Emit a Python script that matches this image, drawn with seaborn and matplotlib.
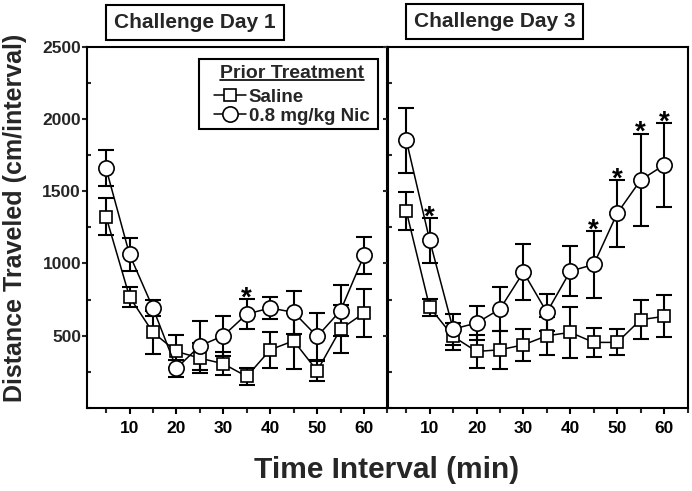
import numpy as np
import pandas as pd
import matplotlib
matplotlib.use("Agg")
import matplotlib.pyplot as plt
from matplotlib.lines import Line2D
from matplotlib.patches import Rectangle
from matplotlib.ticker import MultipleLocator
import seaborn as sns

# ---------------- data ----------------
time_min = [5, 10, 15, 20, 25, 30, 35, 40, 45, 50, 55, 60]

day1_saline = [1324, 769, 523, 391, 345, 306, 218, 403, 465, 257, 546, 657]
day1_saline_sem = [130, 70, 150, 115, 105, 80, 60, 125, 195, 70, 165, 165]
day1_nic = [1658, 1063, 692, 275, 430, 500, 650, 692, 662, 495, 674, 1056]
day1_nic_sem = [125, 115, 55, 60, 170, 140, 105, 75, 150, 165, 175, 130]

day3_saline = [1364, 697, 495, 391, 403, 437, 500, 523, 454, 454, 611, 634]
day3_saline_sem = [133, 58, 92, 115, 130, 110, 130, 175, 100, 90, 135, 145]
day3_nic = [1854, 1160, 546, 588, 685, 940, 662, 947, 993, 1347, 1577, 1681]
day3_nic_sem = [225, 155, 107, 120, 155, 195, 130, 175, 230, 230, 320, 290]

sig_day1 = [35]
sig_day3 = [10, 45, 50, 55, 60]

panel_titles = ["Challenge Day 1", "Challenge Day 3"]
series_labels = ["Saline", "0.8 mg/kg Nic"]
legend_title = "Prior Treatment"
x_label = "Time Interval (min)"
y_label = "Distance Traveled (cm/interval)"
x_ticks = [10, 20, 30, 40, 50, 60]
y_ticks = [500, 1000, 1500, 2000, 2500]

# ---------------- style ----------------
sns.set_theme(style="ticks")
plt.rcParams["font.family"] = ["Liberation Sans", "DejaVu Sans"]
plt.rcParams["font.weight"] = "bold"
plt.rcParams["axes.linewidth"] = 1.5

W, H = 692, 491
fig = plt.figure(figsize=(W / 100, H / 100), dpi=100)
ax1 = fig.add_axes([87.3 / W, 83 / H, 300.2 / W, 361.3 / H])
ax2 = fig.add_axes([387.5 / W, 83 / H, 300.0 / W, 361.3 / H])

panels = [
    (ax1, day1_saline, day1_saline_sem, day1_nic, day1_nic_sem, sig_day1),
    (ax2, day3_saline, day3_saline_sem, day3_nic, day3_nic_sem, sig_day3),
]

sq_kw = dict(marker="s", markersize=9, markerfacecolor="white",
             markeredgecolor="black", markeredgewidth=1.2)
ci_kw = dict(marker="o", markersize=11, markerfacecolor="white",
             markeredgecolor="black", markeredgewidth=1.2)

for ax, sal, sal_e, nic, nic_e, sig in panels:
    df = pd.DataFrame({"t": time_min, "sal": sal, "nic": nic})
    for vals, errs in [(sal, sal_e), (nic, nic_e)]:
        ax.errorbar(time_min, vals, yerr=errs, fmt="none", ecolor="black",
                    elinewidth=1.5, capsize=5.5, capthick=1.5, zorder=2)
    sns.lineplot(data=df, x="t", y="sal", ax=ax, color="black", linewidth=1.1,
                 errorbar=None, zorder=3, **sq_kw)
    sns.lineplot(data=df, x="t", y="nic", ax=ax, color="black", linewidth=1.1,
                 errorbar=None, zorder=4, **ci_kw)
    for t in sig:
        i = time_min.index(t)
        ax.annotate("*", xy=(t, nic[i] + nic_e[i]), xytext=(0, -4.5),
                    textcoords="offset points", ha="center", va="baseline",
                    fontsize=20, fontweight="bold", color="black")

    ax.set_xlim(1, 65)
    ax.set_ylim(0, 2500)
    ax.set_xticks(x_ticks)
    ax.xaxis.set_minor_locator(MultipleLocator(5))
    ax.set_yticks(y_ticks)
    ax.yaxis.set_minor_locator(MultipleLocator(250))
    ax.tick_params(axis="x", which="major", direction="out", length=4.5,
                   width=1.5, labelsize=12.5, pad=5, colors="black")
    ax.tick_params(axis="x", which="minor", direction="out", length=3.5,
                   width=1.5)
    ax.tick_params(axis="y", which="major", direction="out", length=3.5,
                   width=1.5, labelsize=12.5, pad=1)
    ax.tick_params(axis="y", which="minor", direction="in", length=3,
                   width=1.5)
    for lab in ax.get_xticklabels() + ax.get_yticklabels():
        lab.set_fontweight("bold")
    for sp in ax.spines.values():
        sp.set_visible(True)
        sp.set_linewidth(1.5)
        sp.set_color("black")
    ax.set_xlabel("")
    ax.set_ylabel("")
    ax.set_facecolor("white")

ax2.tick_params(axis="y", which="both", labelleft=False)

# panel titles in boxes
for (cx, cy), title in zip([(195, 22.5), (494.8, 21.5)], panel_titles):
    fig.text(cx / W, 1 - cy / H, title, ha="center", va="center",
             fontsize=15, fontweight="bold",
             bbox=dict(boxstyle="square,pad=0.38", fc="white", ec="black", lw=1.5))

# axis labels
fig.text(386.7 / W, 1 - 470 / H, x_label, ha="center", va="center",
         fontsize=21.5, fontweight="bold")
fig.text(15 / W, 1 - 217.5 / H, y_label, ha="center", va="center",
         rotation=90, fontsize=18, fontweight="bold")

# legend: frame drawn as a rectangle, content placed inside it
ax1.add_patch(Rectangle((0.3733, 0.7714), 0.5967, 0.1937, transform=ax1.transAxes,
                        facecolor="white", edgecolor="black", linewidth=1.5,
                        zorder=6, clip_on=False))
handles = [Line2D([], [], color="black", linewidth=1.1, **sq_kw),
           Line2D([], [], color="black", linewidth=1.1, **ci_kw)]
leg = ax1.legend(handles, series_labels, title=legend_title,
                 loc="upper left", bbox_to_anchor=(0.4223, 0.948),
                 borderaxespad=0, frameon=False,
                 prop=dict(weight="bold", size=13.5), title_fontsize=14,
                 handlelength=1.7, handletextpad=0.15, labelspacing=0.1,
                 borderpad=0)
leg.set_zorder(7)
leg.get_title().set_fontweight("bold")
leg._legend_box.sep = 4.4

fig.canvas.draw()
bb = leg.get_title().get_window_extent(fig.canvas.get_renderer())
inv = fig.transFigure.inverted()
(x0, y0), (x1, _) = inv.transform([(bb.x0, bb.y0 + 2.5), (bb.x1, bb.y0 + 2.5)])
fig.add_artist(Line2D([x0, x1], [y0, y0], transform=fig.transFigure,
                      color="black", linewidth=1.2, zorder=10))

fig.savefig("out.png", dpi=100, facecolor="white")
